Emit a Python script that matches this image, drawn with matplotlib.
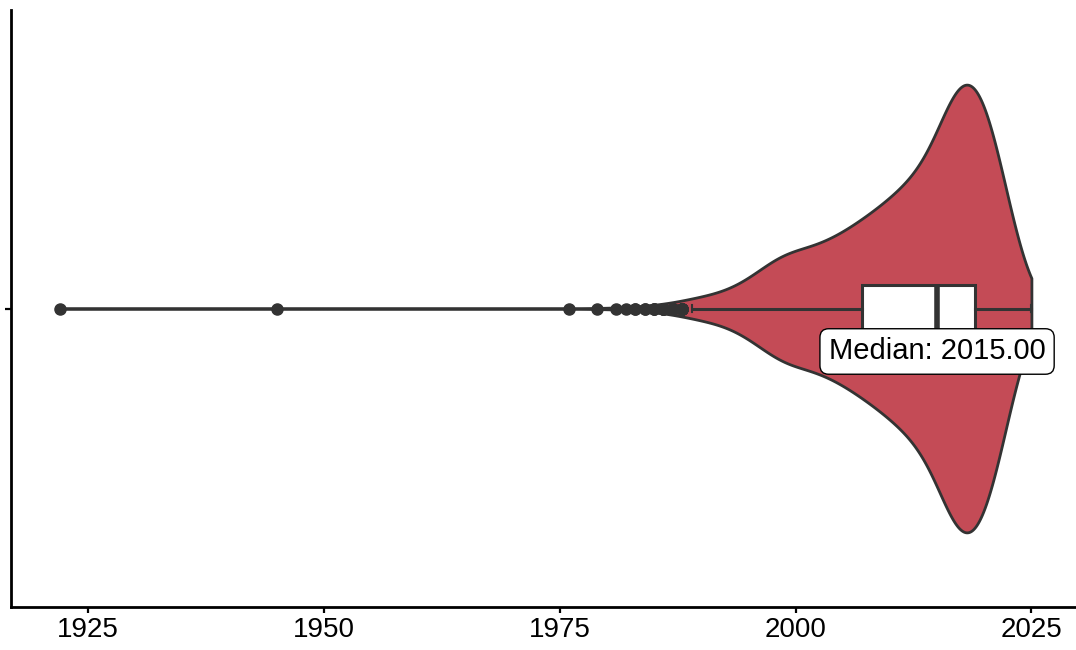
import numpy as np
import matplotlib
matplotlib.use("Agg")
import matplotlib.pyplot as plt
import seaborn as sns

# Publication years and how many items fall in each year
years = [1922, 1945, 1976, 1979, 1981, 1982, 1983, 1984, 1985, 1986, 1987, 1988,
         1989, 1990, 1991, 1992, 1993, 1994, 1995, 1996, 1997, 1998, 1999,
         2000, 2001, 2002, 2003, 2004, 2005, 2006, 2007, 2008, 2009,
         2010, 2011, 2012, 2013, 2014, 2015, 2016, 2017, 2018, 2019,
         2020, 2021, 2022, 2023, 2024, 2025]
counts = [1, 1, 1, 1, 1, 1, 2, 2, 3, 4, 5, 7,
          9, 11, 12, 14, 17, 21, 26, 33, 40, 47, 53,
          52, 54, 56, 59, 64, 68, 74, 80, 86, 92,
          99, 106, 115, 122, 133, 150, 182, 215, 226, 222,
          200, 170, 125, 72, 28, 4]
median_label = "Median: 2015.00"

data = np.repeat(np.array(years, dtype=float), counts)

plt.rcParams['font.family'] = ['Liberation Sans', 'DejaVu Sans']

fig = plt.figure(figsize=(10.76, 6.5), dpi=100)
ax = fig.add_axes([11/1076, 43/650, 1069/1076, 597/650])

sns.violinplot(x=data, orient='h', cut=0, inner=None, color='#C44B56',
               saturation=1, linewidth=2, linecolor='#333333', width=0.75,
               gridsize=1500, bw_adjust=1.1, ax=ax)

ax.boxplot(data, vert=False, positions=[0], widths=0.079, patch_artist=True,
           manage_ticks=False, capwidths=0.012,
           boxprops=dict(facecolor='white', edgecolor='#333333', linewidth=2.2),
           medianprops=dict(color='#333333', linewidth=4),
           whiskerprops=dict(color='#333333', linewidth=2.2),
           capprops=dict(color='#333333', linewidth=1.5),
           flierprops=dict(marker='o', markerfacecolor='#333333',
                           markeredgecolor='#333333', markersize=8), zorder=3)

med = float(np.median(data))
ax.text(med, 0.072, median_label, ha='center', va='center', fontsize=21, zorder=5,
        bbox=dict(boxstyle='round,pad=0.3', facecolor='white', edgecolor='black', linewidth=1))

ax.set_ylim(0.5, -0.5)
ax.set_yticks([0])
ax.set_yticklabels([''])
ax.set_xticks([1925, 1950, 1975, 2000, 2025])
ax.set_xlim(1916.85, 2030.15)
for s in ['top', 'right']:
    ax.spines[s].set_visible(False)
for s in ['left', 'bottom']:
    ax.spines[s].set_linewidth(2)
    ax.spines[s].set_color('black')
ax.tick_params(axis='both', length=4, width=1.6, labelsize=20, colors='black')
ax.set_xlabel('')
ax.set_ylabel('')

fig.savefig('out.png', dpi=100)
